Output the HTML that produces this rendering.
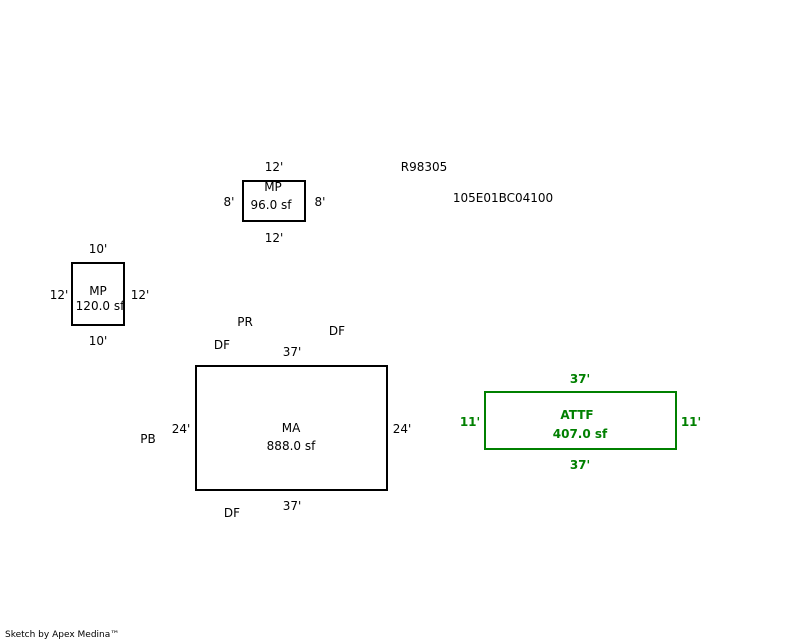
<!DOCTYPE html>
<html><head><meta charset="utf-8"><style>
html,body{margin:0;padding:0;background:#fff;width:800px;height:640px;overflow:hidden}
text{font-family:"DejaVu Sans","Liberation Sans",sans-serif;font-size:12px;fill:#000}
.g{fill:#008000;font-weight:bold}
</style></head><body>
<svg width="800" height="640" xmlns="http://www.w3.org/2000/svg">
<g fill="none" stroke="#000" stroke-width="2">
<rect x="243" y="181" width="62" height="40"/>
<rect x="72" y="263" width="52" height="62"/>
<rect x="196" y="366" width="191" height="124"/>
</g>
<rect x="485" y="392" width="191" height="57" fill="none" stroke="#008000" stroke-width="2"/>
<g text-anchor="middle">
<text x="274" y="171">12'</text>
<text x="273" y="191">MP</text>
<text x="271" y="209">96.0 sf</text>
<text x="229" y="206">8'</text>
<text x="320" y="206">8'</text>
<text x="274" y="242">12'</text>
<text x="424" y="171">R98305</text>
<text x="503" y="202">105E01BC04100</text>
<text x="98" y="253">10'</text>
<text x="59" y="299">12'</text>
<text x="98" y="295">MP</text>
<text x="100" y="310">120.0 sf</text>
<text x="140" y="299">12'</text>
<text x="98" y="345">10'</text>
<text x="245" y="326">PR</text>
<text x="337" y="335">DF</text>
<text x="222" y="349">DF</text>
<text x="292" y="356">37'</text>
<text x="181" y="433">24'</text>
<text x="291" y="432">MA</text>
<text x="291" y="450">888.0 sf</text>
<text x="402" y="433">24'</text>
<text x="148" y="443">PB</text>
<text x="232" y="517">DF</text>
<text x="292" y="510">37'</text>
<text class="g" x="580" y="383">37'</text>
<text class="g" x="470" y="426">11'</text>
<text class="g" x="577" y="419">ATTF</text>
<text class="g" x="580" y="438">407.0 sf</text>
<text class="g" x="691" y="426">11'</text>
<text class="g" x="580" y="469">37'</text>
</g>
<text x="5" y="637" style="font-size:9px">Sketch by Apex Medina™</text>
</svg>
</body></html>
